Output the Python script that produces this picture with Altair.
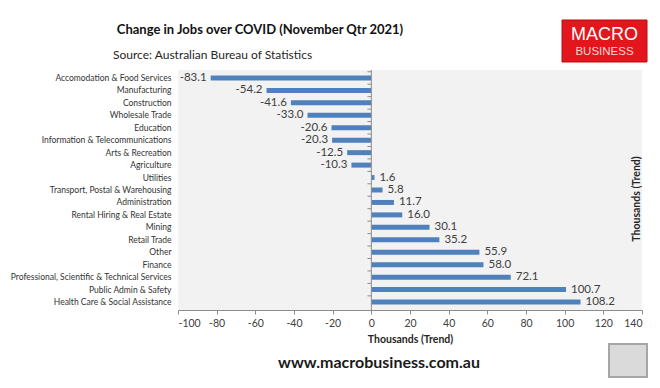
import altair as alt
import pandas as pd

categories = [
    "Accomodation & Food Services", "Manufacturing", "Construction", "Wholesale Trade",
    "Education", "Information & Telecommunications", "Arts & Recreation", "Agriculture",
    "Utilities", "Transport, Postal & Warehousing", "Administration",
    "Rental Hiring & Real Estate", "Mining", "Retail Trade", "Other", "Finance",
    "Professional, Scientific & Technical Services", "Public Admin & Safety",
    "Health Care & Social Assistance",
]
values = [-83.1, -54.2, -41.6, -33.0, -20.6, -20.3, -12.5, -10.3, 1.6, 5.8, 11.7,
          16.0, 30.1, 35.2, 55.9, 58.0, 72.1, 100.7, 108.2]
x_ticks = [-100, -80, -60, -40, -20, 0, 20, 40, 60, 80, 100, 120, 140]

title_text = "Change in Jobs over COVID (November Qtr 2021)"
source_text = "Source: Australian Bureau of Statistics"
axis_title = "Thousands (Trend)"
footer_text = "www.macrobusiness.com.au"

df = pd.DataFrame({"cat": categories, "val": values})
one = pd.DataFrame({"a": [0]})

FONT = "Lato"
W, H = 464, 240

yscale = alt.Scale(domain=categories, paddingInner=0.6, paddingOuter=0.44)
xscale = alt.Scale(domain=[-100, 140], nice=False, zero=False)

y_axis = alt.Axis(title=None, domain=False, ticks=False, labelPadding=7,
                  labelFont=FONT, labelFontSize=8.5, labelColor="#333333",
                  labelLimit=200)
x_axis = alt.Axis(values=x_ticks, title=axis_title, grid=False,
                  labelOverlap=False, labelExpr="'' + datum.value",
                  domainColor="#8c8c8c", tickColor="#8c8c8c", tickSize=4,
                  labelFont=FONT, labelFontSize=10.5, labelColor="#404040",
                  labelPadding=4, titleFont=FONT, titleFontSize=10.5,
                  titleFontWeight="bold", titleColor="#262626", titlePadding=6)

def X(field):
    return alt.X(field, type="quantitative", scale=xscale, axis=x_axis)

def Y():
    return alt.Y("cat:N", sort=categories, scale=yscale, axis=y_axis)

bars = alt.Chart(df).mark_bar(color="#4F81BD", opacity=1).encode(x=X("val"), y=Y())

lbl_expr = "replace(format(datum.val, '.1f'), '\u2212', '-')"

neg_labels = alt.Chart(df).transform_filter("datum.val < 0").transform_calculate(
    lbl=lbl_expr).mark_text(
    align="right", baseline="middle", dx=-4, font=FONT, fontSize=11.5, color="#404040"
).encode(x=X("val"), y=Y(), text="lbl:N")

pos_labels = alt.Chart(df).transform_filter("datum.val >= 0").transform_calculate(
    lbl=lbl_expr).mark_text(
    align="left", baseline="middle", dx=5, font=FONT, fontSize=11.5, color="#404040"
).encode(x=X("val"), y=Y(), text="lbl:N")

zero_line = alt.Chart(one).mark_rule(color="#8c8c8c", strokeWidth=1).encode(x=X("a"))

zero_ticks = alt.Chart(df).transform_calculate(z="0", z2="-2").mark_rule(
    color="#8c8c8c", strokeWidth=1, yOffset=-6.2).encode(
    x=X("z"), x2="z2:Q", y=Y())

title = alt.Chart(one).mark_text(font=FONT, fontSize=13, fontWeight="bold", color="#111111",
                                 align="center", baseline="middle").encode(
    x=alt.value(82), y=alt.value(-40), text=alt.value(title_text))

source = alt.Chart(one).mark_text(font=FONT, fontSize=12, color="#262626",
                                  align="left", baseline="middle").encode(
    x=alt.value(-65), y=alt.value(-15), text=alt.value(source_text))

logo_box = alt.Chart(one).mark_rect(fill="#E3161D", stroke="#B30F14", strokeWidth=1).encode(
    x=alt.value(384), x2=alt.value(469), y=alt.value(-50), y2=alt.value(-8))

logo_t1 = alt.Chart(one).mark_text(font="Liberation Sans", fontSize=18, color="#FFFFFF",
                                   align="center", baseline="middle").encode(
    x=alt.value(426.5), y=alt.value(-35), text=alt.value("MACRO"))

logo_t2 = alt.Chart(one).mark_text(font="Liberation Sans", fontSize=11.5, color="#F9D3D3",
                                   align="center", baseline="middle").encode(
    x=alt.value(426.5), y=alt.value(-18), text=alt.value("BUSINESS"))

right_title = alt.Chart(one).mark_text(font=FONT, fontSize=10.5, fontWeight="bold",
                                       color="#262626", angle=270, align="center",
                                       baseline="middle").encode(
    x=alt.value(459), y=alt.value(129), text=alt.value(axis_title))

footer = alt.Chart(one).mark_text(font=FONT, fontSize=16, fontWeight="bold", color="#1a1a1a",
                                  align="center", baseline="middle").encode(
    x=alt.value(201), y=alt.value(293), text=alt.value(footer_text))

fox_box = alt.Chart(one).mark_rect(fill="#DADADA", stroke="#A6A6A6", strokeWidth=2).encode(
    x=alt.value(431), x2=alt.value(469), y=alt.value(274), y2=alt.value(307))

chart = alt.layer(
    bars, zero_line, zero_ticks, neg_labels, pos_labels,
    title, source, logo_box, logo_t1, logo_t2, right_title, footer, fox_box
).properties(
    width=W, height=H,
    autosize=alt.AutoSizeParams(type="none"),
    padding={"left": 170, "top": 62, "right": 10, "bottom": 70},
    background="#FFFFFF",
).configure_view(fill="#F2F2F2", stroke=None).configure_axisX(labelOverlap=False)

chart.save("out.html", embed_options={"renderer": "svg", "actions": False})
